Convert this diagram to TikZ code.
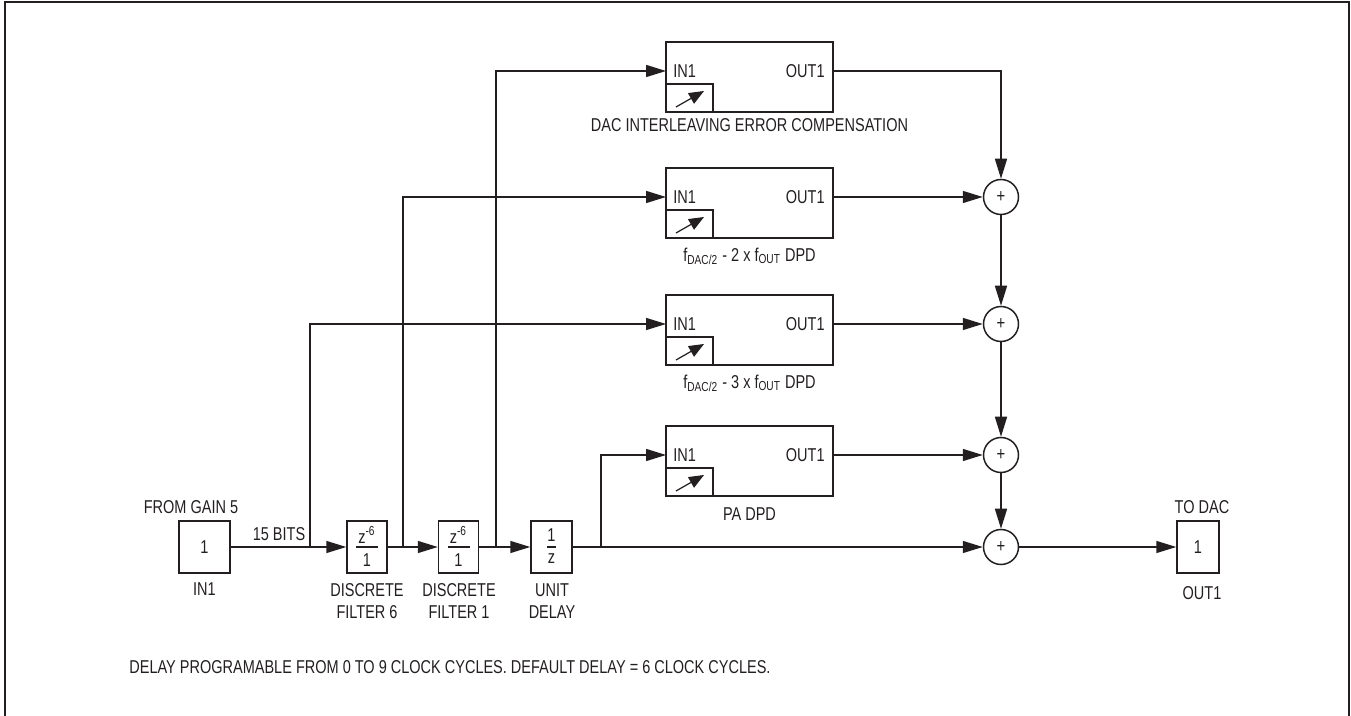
\documentclass[tikz,border=0pt]{standalone}
\usepackage{fontspec}
\setmainfont{Liberation Sans}[FakeStretch=0.78]
\usetikzlibrary{arrows.meta}
\definecolor{ink}{HTML}{231F20}
\begin{document}
\begin{tikzpicture}[x=0.5pt,y=-0.5pt,
  every node/.style={text=ink},
  font=\fontsize{9.3}{11}\selectfont,
  wire/.style={draw=ink,line width=0.75pt},
  conn/.style={wire,-{Triangle[length=10pt,width=6pt]}},
  blk/.style={draw=ink,line width=0.75pt,minimum width=83.5pt,minimum height=35pt,inner sep=0pt},
  sbox/.style={draw=ink,line width=0.75pt,minimum height=26pt,inner sep=0pt},
  adder/.style={circle,draw=ink,line width=0.75pt,minimum size=17.5pt,inner sep=0pt,font=\fontsize{9.5}{10}\selectfont},
  icon/.style={draw=ink,line width=0.6pt,-{Triangle[length=7.5pt,width=6pt]}},
  lbl/.style={align=center,inner sep=0pt}
]
\useasboundingbox (0,0) rectangle (1351,716);
\draw[draw=ink,line width=1pt] (5,730) -- (5,2.5) -- (1349,2.5) -- (1349,730);

% DPD blocks
\foreach \n/\y in {1/71,2/197,3/324,4/455}{
  \node[blk] (b\n) at (749.5,\y+6) {};
  \node[anchor=west,inner sep=0pt] (b\n i) at (673,\y) {IN1};
  \node[anchor=east,inner sep=0pt] (b\n o) at (825,\y) {OUT1};
  \draw[draw=ink,line width=0.75pt] (666,\y+13) rectangle (713,\y+41);
  \draw[icon] (676,\y+36) -- (704,\y+20);
  \coordinate (b\n in) at (666,\y);
  \coordinate (b\n out) at (833,\y);
}
\node[lbl] (l1) at (749.5,125) {DAC INTERLEAVING ERROR COMPENSATION};
\node[lbl] (l2) at (749.5,256) {f\textsubscript{DAC/2} - 2 x f\textsubscript{OUT} DPD};
\node[lbl] (l3) at (749.5,383) {f\textsubscript{DAC/2} - 3 x f\textsubscript{OUT} DPD};
\node[lbl] (l4) at (749.5,514) {PA DPD};

% adders
\node[adder] (s1) at (1001,197) {+};
\node[adder] (s2) at (1001,324) {+};
\node[adder] (s3) at (1001,455) {+};
\node[adder] (s4) at (1001,547) {+};

% small boxes
\node[sbox,minimum width=25.5pt] (in) at (204.5,547) {1};
\node[sbox,minimum width=20pt] (f6) at (367,547) {};
\node[sbox,minimum width=20pt] (f1) at (458.5,547) {};
\node[sbox,minimum width=20.5pt] (ud) at (551.5,547) {};
\node[sbox,minimum width=21pt] (out) at (1198,547) {1};

% box contents
\node[inner sep=0pt] (f6n) at (367,535) {z\textsuperscript{-6}};
\draw[wire,line width=0.6pt] (356,547) -- (378,547);
\node[inner sep=0pt] (f6d) at (367,560) {1};
\node[inner sep=0pt] (f1n) at (458.5,535) {z\textsuperscript{-6}};
\draw[wire,line width=0.6pt] (447.5,547) -- (469.5,547);
\node[inner sep=0pt] (f1d) at (458.5,560) {1};
\node[inner sep=0pt] (udn) at (551.5,535) {1};
\draw[wire,line width=0.6pt] (547,547) -- (556,547);
\node[inner sep=0pt] (udd) at (551.5,559) {z};

% labels
\node[lbl] (fromg) at (191,507) {FROM GAIN 5};
\node[lbl] (bits) at (279,534) {15 BITS};
\node[lbl] (inl) at (204.5,589) {IN1};
\node[lbl] (f6l) at (367,601) {DISCRETE\\FILTER 6};
\node[lbl] (f1l) at (459,601) {DISCRETE\\FILTER 1};
\node[lbl] (udl) at (552,601) {UNIT\\DELAY};
\node[lbl] (todac) at (1202,507) {TO DAC};
\node[lbl] (outl) at (1202,593) {OUT1};
\node[anchor=west,inner sep=0pt] (note) at (129,667) {DELAY PROGRAMABLE FROM 0 TO 9 CLOCK CYCLES. DEFAULT DELAY = 6 CLOCK CYCLES.};

% junctions
\coordinate (j1) at (310,547);
\coordinate (j2) at (403,547);
\coordinate (j3) at (496,547);
\coordinate (j4) at (601,547);

% main chain
\draw[conn] (in) -- (f6);
\draw[conn] (f6) -- (f1);
\draw[conn] (f1) -- (ud);
\draw[conn] (ud) -- (s4);
\draw[conn] (s4) -- (out);

% taps
\draw[conn] (j1) |- (b3in);
\draw[conn] (j2) |- (b2in);
\draw[conn] (j3) |- (b1in);
\draw[conn] (j4) |- (b4in);

% outputs
\draw[conn] (b1out) -| (s1);
\draw[conn] (b2out) -- (s1);
\draw[conn] (b3out) -- (s2);
\draw[conn] (b4out) -- (s3);
\draw[conn] (s1) -- (s2);
\draw[conn] (s2) -- (s3);
\draw[conn] (s3) -- (s4);
\end{tikzpicture}
\end{document}
